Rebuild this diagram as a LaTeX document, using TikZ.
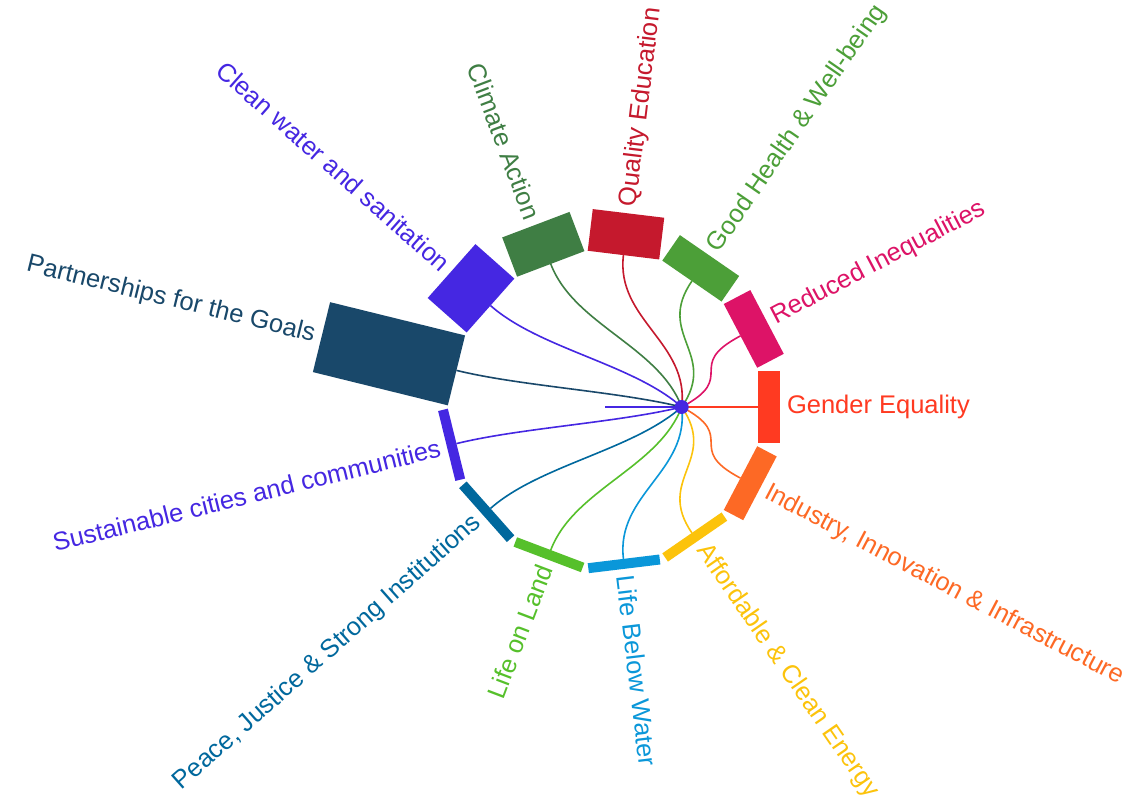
\documentclass[tikz,border=0pt]{standalone}
\usepackage{fontspec}
\setmainfont{Liberation Sans}
\usetikzlibrary{calc,backgrounds}
\definecolor{cGE}{HTML}{FF3A21}
\definecolor{cRI}{HTML}{DD1367}
\definecolor{cGH}{HTML}{4C9F38}
\definecolor{cQE}{HTML}{C5192D}
\definecolor{cCA}{HTML}{3F7E44}
\definecolor{cCW}{HTML}{4527E2}
\definecolor{cPG}{HTML}{19486A}
\definecolor{cPJ}{HTML}{00689D}
\definecolor{cLL}{HTML}{56C02B}
\definecolor{cLB}{HTML}{0A97D9}
\definecolor{cAE}{HTML}{FCC30B}
\definecolor{cII}{HTML}{FD6925}
\begin{document}
\begin{tikzpicture}[x=1pt,y=1pt,
  bar/.style={rectangle, inner sep=0pt, outer sep=0pt, minimum height=72pt},
  lbl/.style={inner sep=0pt, outer sep=0pt, font=\fontsize{25.5}{30}\selectfont},
  link/.style={line width=1.6pt}]
\useasboundingbox (0,0) rectangle (1127,803);
\begin{scope}[on background layer]
\fill[white] (0,0) rectangle (1127,803);
\end{scope}
\coordinate (ctr) at (605,396);
\node[circle, fill=cCW, inner sep=0pt, minimum size=14pt] (hub) at (681.7,396) {};
\begin{scope}[on background layer]
\draw[link, draw=cCW] (hub.center) -- (ctr);
\end{scope}
\foreach \k/\thk/\col/\f/\txt in {
  0/22/cGE/0/{Gender Equality},
  1/30/cRI/0/{Reduced Inequalities},
  2/31/cGH/0/{Good Health \& Well-being},
  3/42/cQE/0/{Quality Education},
  4/42/cCA/1/{Climate Action},
  5/52/cCW/1/{Clean water and sanitation},
  6/139/cPG/1/{Partnerships for the Goals},
  7/10/cCW/1/{Sustainable cities and communities},
  8/10/cPJ/1/{Peace, Justice \& Strong Institutions},
  9/10/cLL/1/{Life on Land},
  10/10/cLB/0/{Life Below Water},
  11/10/cAE/0/{Affordable \& Clean Energy},
  12/22/cII/0/{Industry, Innovation \& Infrastructure}}{
  \pgfmathsetmacro\ang{\k*360/13}
  \pgfmathsetmacro\rot{\ang-180*\f}
  \ifnum\f=0 \def\anc{west}\else\def\anc{east}\fi
  \node[bar, minimum width=\thk pt, fill=\col, rotate=\ang, anchor=west] (b\k) at ($(ctr)+(\ang:153)$) {};
  \node[lbl, text=\col, rotate=\rot, anchor=\anc] (l\k) at ($(b\k.east)+(\ang:7)$) {\txt};
  \begin{scope}[on background layer]
  \draw[link, draw=\col] (hub.center) .. controls ($(hub.center)+(\ang:65)$) and ($(b\k.west)-(\ang:65)$) .. (b\k.west);
  \end{scope}
}
\end{tikzpicture}
\end{document}
